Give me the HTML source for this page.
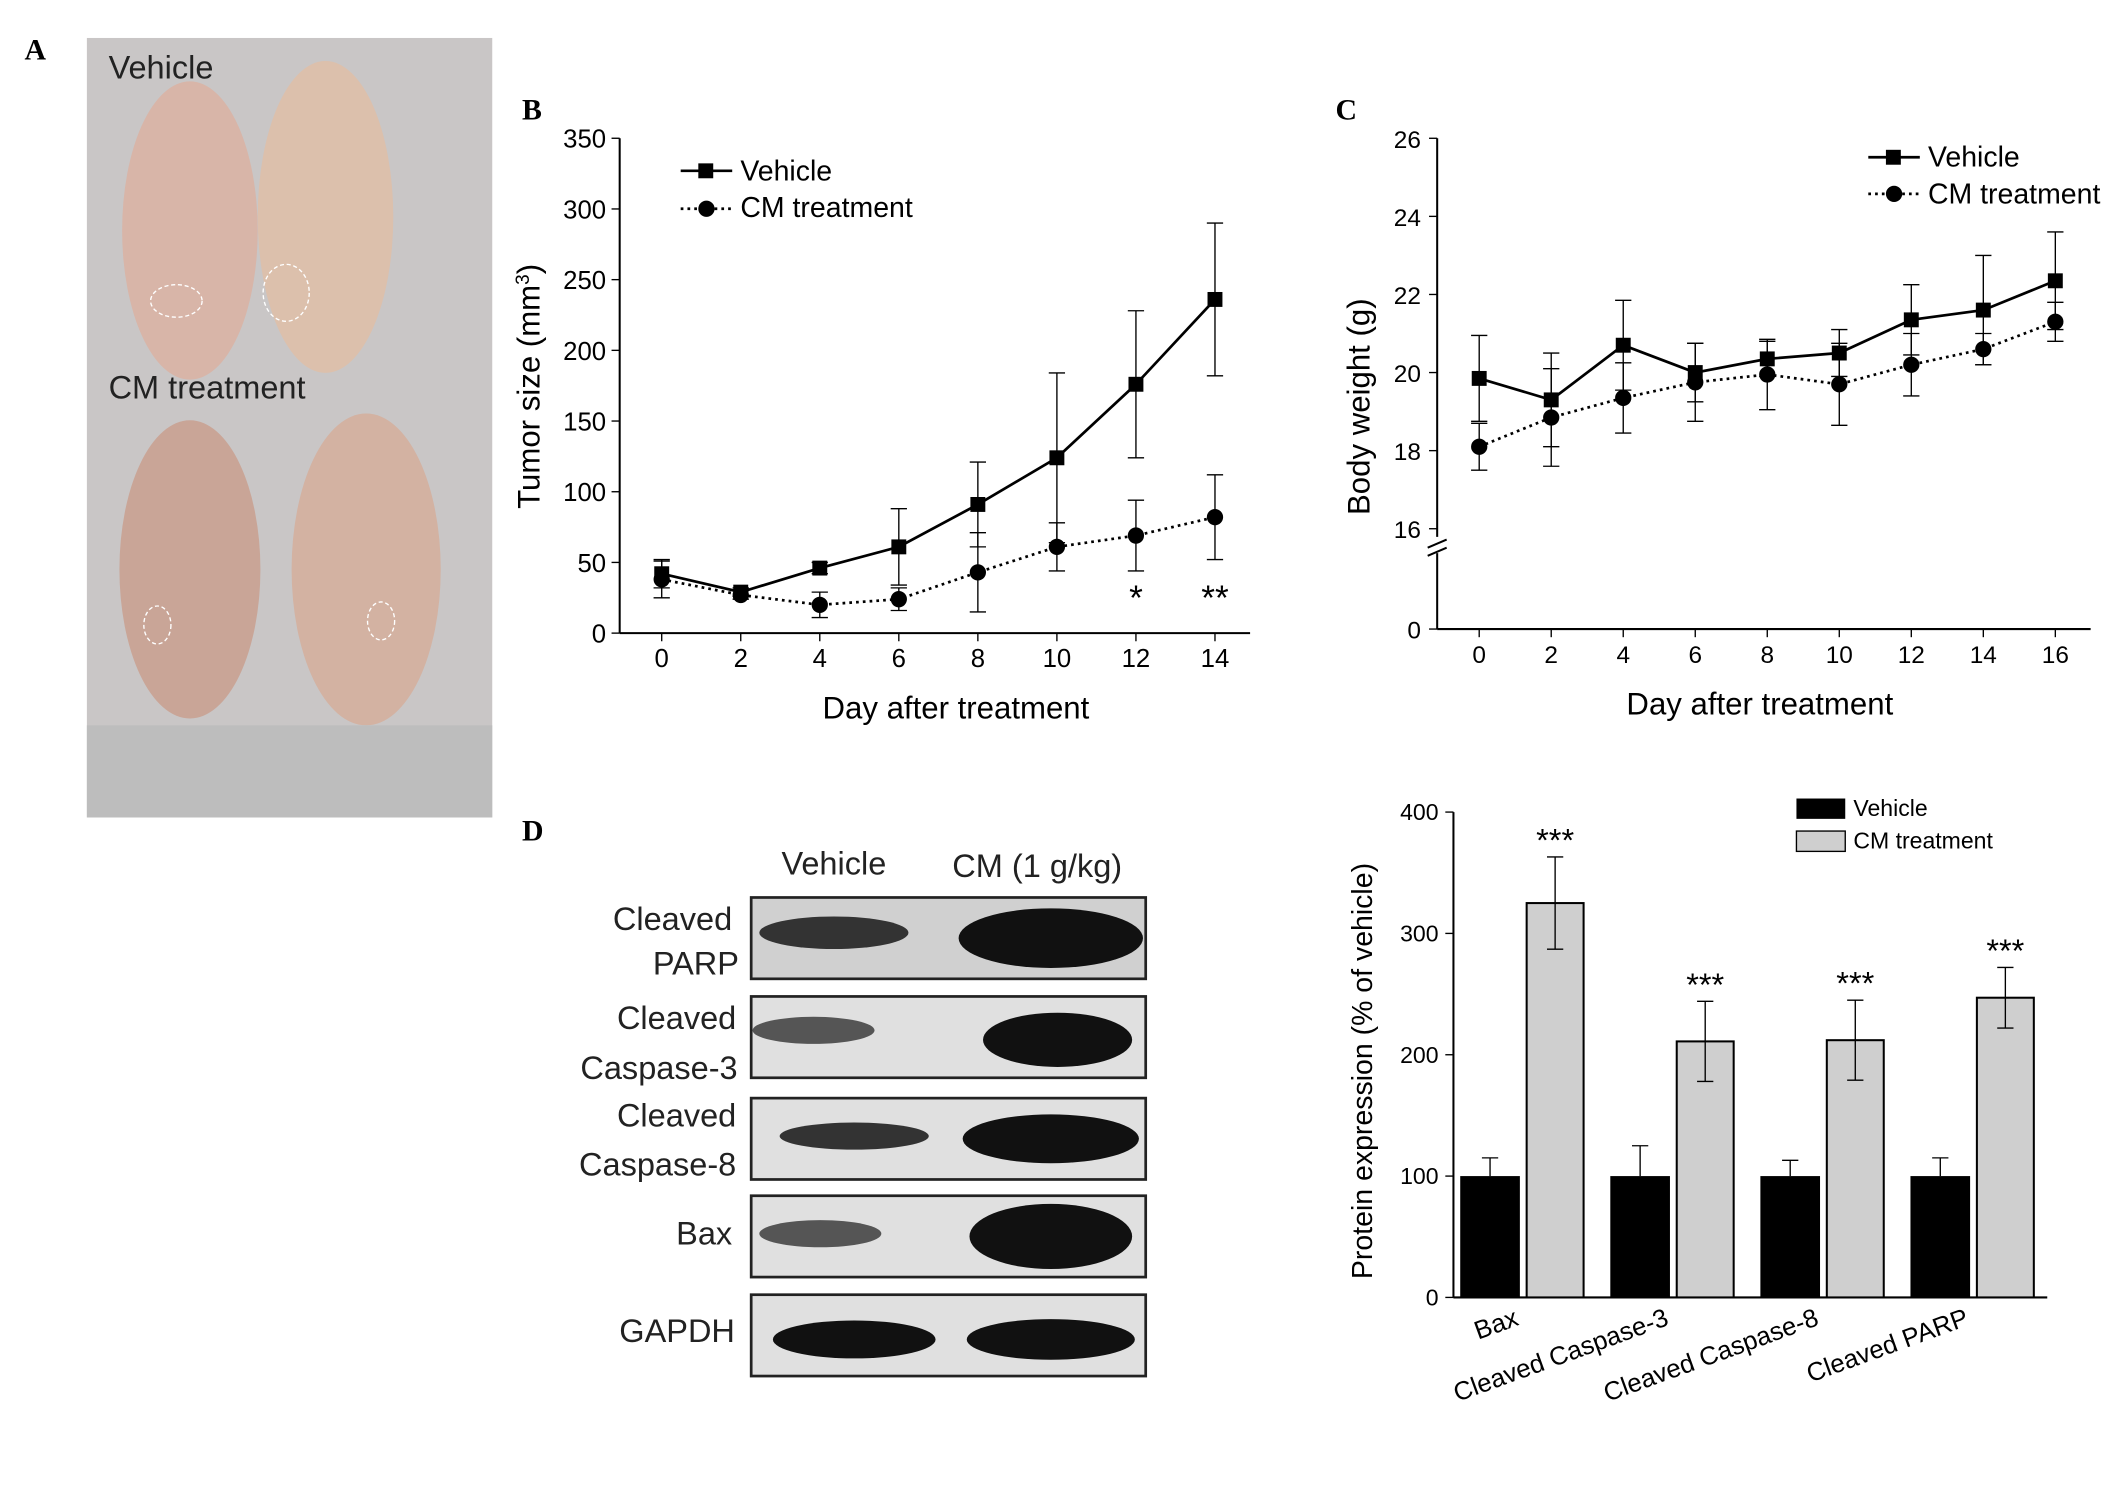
<!DOCTYPE html>
<html><head><meta charset="utf-8"><style>
html,body{margin:0;padding:0;background:#fff;}
svg{display:block;font-family:"Liberation Sans",sans-serif;}
</style></head><body>
<svg id="fig" width="2126" height="1494" viewBox="0 0 1568 1102" xmlns="http://www.w3.org/2000/svg">
<rect width="1568" height="1102" fill="#fff"/>
<text x="18" y="44" font-family="Liberation Serif" font-weight="bold" font-size="22">A</text>
<g>
<rect x="64" y="28" width="299" height="575" fill="#c9c6c6"/>
<ellipse cx="140" cy="170" rx="50" ry="110" fill="#d8b5a8"/>
<ellipse cx="240" cy="160" rx="50" ry="115" fill="#dcc0ac"/>
<ellipse cx="140" cy="420" rx="52" ry="110" fill="#c9a597"/>
<ellipse cx="270" cy="420" rx="55" ry="115" fill="#d3b2a2"/>
<ellipse cx="130" cy="222" rx="19" ry="12" fill="none" stroke="#fff" stroke-dasharray="3,2"/>
<ellipse cx="211" cy="216" rx="17" ry="21" fill="none" stroke="#fff" stroke-dasharray="3,2"/>
<ellipse cx="116" cy="461" rx="10" ry="14" fill="none" stroke="#fff" stroke-dasharray="3,2"/>
<ellipse cx="281" cy="458" rx="10" ry="14" fill="none" stroke="#fff" stroke-dasharray="3,2"/>
<rect x="64" y="535" width="299" height="68" fill="#bdbdbd"/>
<text x="80" y="58" font-size="24" fill="#222">Vehicle</text>
<text x="80" y="294" font-size="24" fill="#222">CM  treatment</text>
</g>
<text x="385" y="88" font-family="Liberation Serif" font-weight="bold" font-size="22">B</text>
<text x="985" y="88" font-family="Liberation Serif" font-weight="bold" font-size="22">C</text>
<text x="385" y="620" font-family="Liberation Serif" font-weight="bold" font-size="22">D</text>
<g id="chartB"></g>
<g id="chartC"></g>
<g>
<text x="615" y="645" font-size="24" text-anchor="middle" fill="#222">Vehicle</text>
<text x="765" y="647" font-size="24" text-anchor="middle" fill="#222">CM (1 g/kg)</text>
<rect x="554" y="662" width="291" height="60" fill="#d0d0d0" stroke="#222" stroke-width="2"/>
<ellipse cx="615" cy="688" rx="55" ry="12" fill="#333"/><ellipse cx="775" cy="692" rx="68" ry="22" fill="#111"/>
<rect x="554" y="735" width="291" height="60" fill="#e0e0e0" stroke="#222" stroke-width="2"/>
<ellipse cx="600" cy="760" rx="45" ry="10" fill="#555"/><ellipse cx="780" cy="767" rx="55" ry="20" fill="#111"/>
<rect x="554" y="810" width="291" height="60" fill="#e0e0e0" stroke="#222" stroke-width="2"/>
<ellipse cx="630" cy="838" rx="55" ry="10" fill="#333"/><ellipse cx="775" cy="840" rx="65" ry="18" fill="#111"/>
<rect x="554" y="882" width="291" height="60" fill="#e0e0e0" stroke="#222" stroke-width="2"/>
<ellipse cx="605" cy="910" rx="45" ry="10" fill="#555"/><ellipse cx="775" cy="912" rx="60" ry="24" fill="#111"/>
<rect x="554" y="955" width="291" height="60" fill="#e0e0e0" stroke="#222" stroke-width="2"/>
<ellipse cx="630" cy="988" rx="60" ry="14" fill="#111"/><ellipse cx="775" cy="988" rx="62" ry="15" fill="#111"/>
<g font-size="24" fill="#222" text-anchor="end">
<text x="540" y="686">Cleaved</text><text x="545" y="719">PARP</text>
<text x="543" y="759">Cleaved</text><text x="544" y="796">Caspase-3</text>
<text x="543" y="831">Cleaved</text><text x="543" y="867">Caspase-8</text>
<text x="540" y="918">Bax</text><text x="542" y="990">GAPDH</text>
</g></g>
<g id="chartD"></g>
<script>
const NS="http://www.w3.org/2000/svg";
function mk(p,t,a,txt){const e=document.createElementNS(NS,t);for(const k in a)e.setAttribute(k,a[k]);if(txt!==undefined)e.textContent=txt;p.appendChild(e);return e;}
const bDays=[0,2,4,6,8,10,12,14];
const bVehicle=[42,29,46,61,91,124,176,236];
const bVehicleErr=[10,3,4,27,30,60,52,54];
const bCM=[38,27,20,24,43,61,69,82];
const bCMErr=[13,3,9,8,28,17,25,30];
const bTicksY=[0,50,100,150,200,250,300,350];
const bSig=["","","","","","","*","**"];
(function(){
const g=document.getElementById('chartB');
const X=d=>488+d*29.15, Y=v=>467-v*1.0429;
mk(g,'line',{x1:457,y1:467,x2:457,y2:102,stroke:'#000','stroke-width':1.5});
mk(g,'line',{x1:457,y1:467,x2:922,y2:467,stroke:'#000','stroke-width':1.5});
bTicksY.forEach(t=>{mk(g,'line',{x1:451,y1:Y(t),x2:457,y2:Y(t),stroke:'#000'});
const l=mk(g,'text',{x:447,y:Y(t)+7,'font-size':19,'text-anchor':'end'},t);});
bDays.forEach(d=>{mk(g,'line',{x1:X(d),y1:467,x2:X(d),y2:473,stroke:'#000'});
const l=mk(g,'text',{x:X(d),y:492,'font-size':19,'text-anchor':'middle'},d);});
mk(g,'text',{x:705,y:530,'font-size':23,'text-anchor':'middle'},'Day after treatment');
const yt=mk(g,'text',{transform:'translate(398,285) rotate(-90)','font-size':23,'text-anchor':'middle'});


mk(yt,'tspan',{},'Tumor size (mm');
mk(yt,'tspan',{dy:-8,'font-size':14},'3');
mk(yt,'tspan',{dy:8},')');
bDays.forEach((d,i)=>{
mk(g,'line',{x1:X(d),y1:Y(bVehicle[i]+bVehicleErr[i]),x2:X(d),y2:Y(bVehicle[i]-bVehicleErr[i]),stroke:'#000'});
[bVehicle[i]+bVehicleErr[i],bVehicle[i]-bVehicleErr[i]].forEach(v=>mk(g,'line',{x1:X(d)-6,y1:Y(v),x2:X(d)+6,y2:Y(v),stroke:'#000'}));
mk(g,'line',{x1:X(d),y1:Y(bCM[i]+bCMErr[i]),x2:X(d),y2:Y(Math.max(0,bCM[i]-bCMErr[i])),stroke:'#000'});
[bCM[i]+bCMErr[i],Math.max(0,bCM[i]-bCMErr[i])].forEach(v=>mk(g,'line',{x1:X(d)-6,y1:Y(v),x2:X(d)+6,y2:Y(v),stroke:'#000'}));
if(bSig[i]){const s=mk(g,'text',{x:X(d),y:450,'font-size':26,'text-anchor':'middle'},bSig[i]);}
});
mk(g,'polyline',{points:bDays.map((d,i)=>X(d)+','+Y(bVehicle[i])).join(' '),fill:'none',stroke:'#000','stroke-width':2});
mk(g,'polyline',{points:bDays.map((d,i)=>X(d)+','+Y(bCM[i])).join(' '),fill:'none',stroke:'#000','stroke-width':2,'stroke-dasharray':'2,3'});
bDays.forEach((d,i)=>{const r=mk(g,'rect',{x:X(d)-5.5,y:Y(bVehicle[i])-5.5,width:11,height:11,fill:'#000'});
const c=mk(g,'circle',{cx:X(d),cy:Y(bCM[i]),r:6,fill:'#000'});});
mk(g,'line',{x1:502,y1:126,x2:540,y2:126,stroke:'#000','stroke-width':2});mk(g,'rect',{x:515,y:120.5,width:11,height:11});
mk(g,'text',{x:546,y:133,'font-size':21},'Vehicle');
mk(g,'line',{x1:502,y1:154,x2:540,y2:154,stroke:'#000','stroke-width':2,'stroke-dasharray':'2,3'});mk(g,'circle',{cx:521,cy:154,r:6});
mk(g,'text',{x:546,y:160,'font-size':21},'CM treatment');
})();
const cDays=[0,2,4,6,8,10,12,14,16];
const cVehicle=[19.85,19.3,20.7,20.0,20.35,20.5,21.35,21.6,22.35];
const cVehicleErr=[1.1,1.2,1.15,0.75,0.45,0.6,0.9,1.4,1.25];
const cCM=[18.1,18.85,19.35,19.75,19.95,19.7,20.2,20.6,21.3];
const cCMErr=[0.6,1.25,0.9,1.0,0.9,1.05,0.8,0.4,0.5];
const cTicksY=[16,18,20,22,24,26];
(function(){
const g=document.getElementById('chartC');
const X=d=>1091+d*26.56, Y=v=>390-(v-16)*28.8;
mk(g,'line',{x1:1060,y1:464,x2:1060,y2:408,stroke:'#000','stroke-width':1.5});
mk(g,'line',{x1:1060,y1:396,x2:1060,y2:102,stroke:'#000','stroke-width':1.5});
mk(g,'line',{x1:1053,y1:404,x2:1067,y2:398,stroke:'#000','stroke-width':1.5});
mk(g,'line',{x1:1053,y1:410,x2:1067,y2:404,stroke:'#000','stroke-width':1.5});
mk(g,'line',{x1:1060,y1:464,x2:1542,y2:464,stroke:'#000','stroke-width':1.5});
mk(g,'line',{x1:1054,y1:464,x2:1060,y2:464,stroke:'#000'});
mk(g,'text',{x:1048,y:471,'font-size':18,'text-anchor':'end'},'0');
cTicksY.forEach(t=>{mk(g,'line',{x1:1054,y1:Y(t),x2:1060,y2:Y(t),stroke:'#000'});
const l=mk(g,'text',{x:1048,y:Y(t)+7,'font-size':18,'text-anchor':'end'},t);});
cDays.forEach(d=>{mk(g,'line',{x1:X(d),y1:464,x2:X(d),y2:470,stroke:'#000'});
const l=mk(g,'text',{x:X(d),y:489,'font-size':18,'text-anchor':'middle'},d);});
mk(g,'text',{x:1298,y:527,'font-size':23,'text-anchor':'middle'},'Day after treatment');
mk(g,'text',{transform:'translate(1010,300) rotate(-90)','font-size':23,'text-anchor':'middle'},'Body weight (g)');
cDays.forEach((d,i)=>{[[cVehicle[i],cVehicleErr[i]],[cCM[i],cCMErr[i]]].forEach(([v,e])=>{
mk(g,'line',{x1:X(d),y1:Y(v+e),x2:X(d),y2:Y(v-e),stroke:'#000'});
mk(g,'line',{x1:X(d)-6,y1:Y(v+e),x2:X(d)+6,y2:Y(v+e),stroke:'#000'});
mk(g,'line',{x1:X(d)-6,y1:Y(v-e),x2:X(d)+6,y2:Y(v-e),stroke:'#000'});});});
mk(g,'polyline',{points:cDays.map((d,i)=>X(d)+','+Y(cVehicle[i])).join(' '),fill:'none',stroke:'#000','stroke-width':2});
mk(g,'polyline',{points:cDays.map((d,i)=>X(d)+','+Y(cCM[i])).join(' '),fill:'none',stroke:'#000','stroke-width':2,'stroke-dasharray':'2,3'});
cDays.forEach((d,i)=>{const r=mk(g,'rect',{x:X(d)-5.5,y:Y(cVehicle[i])-5.5,width:11,height:11});
const c=mk(g,'circle',{cx:X(d),cy:Y(cCM[i]),r:6});});
mk(g,'line',{x1:1378,y1:116,x2:1416,y2:116,stroke:'#000','stroke-width':2});mk(g,'rect',{x:1391,y:110.5,width:11,height:11});
mk(g,'text',{x:1422,y:123,'font-size':21},'Vehicle');
mk(g,'line',{x1:1378,y1:143,x2:1416,y2:143,stroke:'#000','stroke-width':2,'stroke-dasharray':'2,3'});mk(g,'circle',{cx:1397,cy:143,r:6});
mk(g,'text',{x:1422,y:150,'font-size':21},'CM treatment');
})();
const dCats=["Bax","Cleaved Caspase-3","Cleaved Caspase-8","Cleaved PARP"];
const dVehicle=[100,100,100,100];
const dVehicleErr=[15,25,13,15];
const dCM=[325,211,212,247];
const dCMErr=[38,33,33,25];
const dTicksY=[0,100,200,300,400];
(function(){
const g=document.getElementById('chartD');
const Y=v=>957-v*0.895, G=i=>1077+i*110.7;
mk(g,'line',{x1:1072,y1:957,x2:1072,y2:599,stroke:'#000','stroke-width':1.5});
mk(g,'line',{x1:1072,y1:957,x2:1510,y2:957,stroke:'#000','stroke-width':1.5});
dTicksY.forEach(t=>{mk(g,'line',{x1:1066,y1:Y(t),x2:1072,y2:Y(t),stroke:'#000'});
const l=mk(g,'text',{x:1061,y:Y(t)+6,'font-size':17,'text-anchor':'end'},t);});
mk(g,'text',{transform:'translate(1012,790) rotate(-90)','font-size':21,'text-anchor':'middle'},'Protein expression (% of vehicle)');
dCats.forEach((c,i)=>{const x=G(i);
const b=mk(g,'rect',{x:x,y:Y(dVehicle[i]),width:44,height:Y(0)-Y(dVehicle[i]),fill:'#000'});
mk(g,'line',{x1:x+22,y1:Y(dVehicle[i]),x2:x+22,y2:Y(dVehicle[i]+dVehicleErr[i]),stroke:'#000'});
mk(g,'line',{x1:x+16,y1:Y(dVehicle[i]+dVehicleErr[i]),x2:x+28,y2:Y(dVehicle[i]+dVehicleErr[i]),stroke:'#000'});
const b2=mk(g,'rect',{x:x+49,y:Y(dCM[i]),width:42,height:Y(0)-Y(dCM[i]),fill:'#cfcfcf',stroke:'#000','stroke-width':1.5});
mk(g,'line',{x1:x+70,y1:Y(dCM[i]-dCMErr[i]),x2:x+70,y2:Y(dCM[i]+dCMErr[i]),stroke:'#000'});
mk(g,'line',{x1:x+64,y1:Y(dCM[i]+dCMErr[i]),x2:x+76,y2:Y(dCM[i]+dCMErr[i]),stroke:'#000'});
mk(g,'line',{x1:x+64,y1:Y(dCM[i]-dCMErr[i]),x2:x+76,y2:Y(dCM[i]-dCMErr[i]),stroke:'#000'});
mk(g,'text',{x:x+70,y:Y(dCM[i]+dCMErr[i])-4,'font-size':24,'text-anchor':'middle'},'***');
const l=mk(g,'text',{transform:`translate(${x+44},977) rotate(-20)`,'font-size':19,'text-anchor':'end'},c);
});
mk(g,'rect',{x:1325,y:589,width:36,height:15,fill:'#000'});mk(g,'text',{x:1367,y:602,'font-size':17},'Vehicle');
mk(g,'rect',{x:1325,y:613,width:36,height:15,fill:'#cfcfcf',stroke:'#000'});mk(g,'text',{x:1367,y:626,'font-size':17},'CM treatment');
})();
</script>
</svg>
</body></html>
